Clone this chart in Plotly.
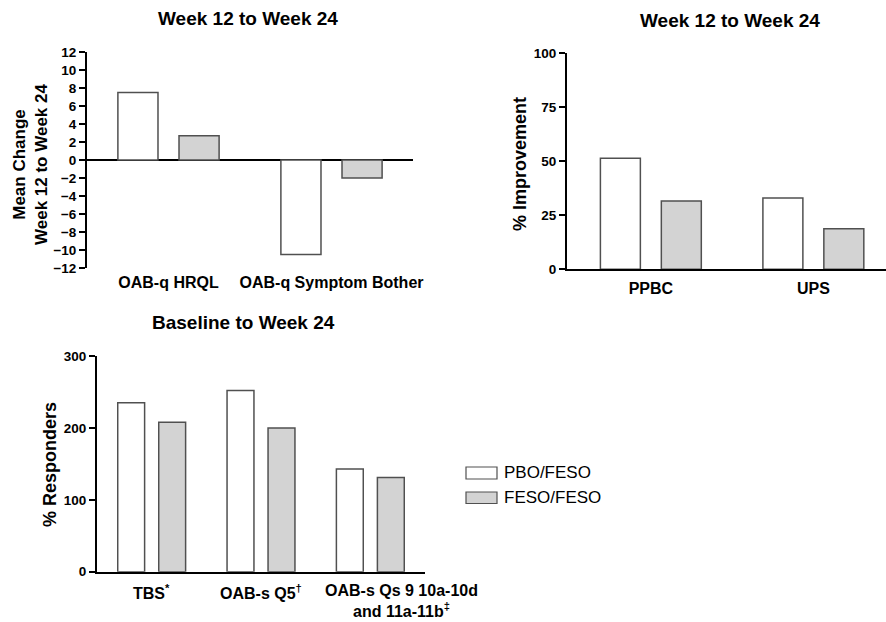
import plotly.graph_objects as go

# ---------------- data ----------------
series_names = ["PBO/FESO", "FESO/FESO"]

cats_change = ["OAB-q HRQL", "OAB-q Symptom Bother"]
pbo_change = [7.5, -10.5]
feso_change = [2.7, -2.0]
ticks_change = [-12, -10, -8, -6, -4, -2, 0, 2, 4, 6, 8, 10, 12]

cats_improve = ["PPBC", "UPS"]
pbo_improve = [51.4, 33.0]
feso_improve = [31.6, 18.8]
ticks_improve = [0, 25, 50, 75, 100]

cats_resp = ["TBS<sup>*</sup>", "OAB-s Q5<sup>†</sup>",
             "OAB-s Qs 9 10a-10d<br>and 11a-11b<sup>‡</sup>"]
pbo_resp = [235, 252, 143]
feso_resp = [208, 200, 131]
ticks_resp = [0, 100, 200, 300]

# ---------------- style ----------------
W, H = 886, 622
FONT = "Liberation Sans, Arial, sans-serif"
EDGE = "#505050"
FILLS = ["#ffffff", "#d3d3d3"]


def fx(px):
    return px / W


def fy(py):
    return 1 - py / H


fig = go.Figure()

panels = [
    ("x", "y", cats_change, [pbo_change, feso_change]),
    ("x2", "y2", cats_improve, [pbo_improve, feso_improve]),
    ("x3", "y3", cats_resp, [pbo_resp, feso_resp]),
]
for xa, ya, cats, vals in panels:
    for name, v, fill in zip(series_names, vals, FILLS):
        fig.add_trace(go.Bar(
            x=cats, y=v, name=name, xaxis=xa, yaxis=ya,
            marker=dict(color=fill, line=dict(color=EDGE, width=1.5)),
            showlegend=False, hoverinfo="y+name",
        ))

TICKFONT_X = dict(family=FONT, size=16, color="black", weight="bold")
yaxis_common = dict(
    showline=True, linewidth=2, linecolor="black",
    ticks="outside", ticklen=6, tickwidth=1.5, tickcolor="black",
    showgrid=False, automargin=False,
    tickfont=dict(family=FONT, size=13.5, color="black", weight="bold"),
)
xaxis_common = dict(
    type="category", ticks="", showgrid=False, zeroline=False,
    automargin=False, tickangle=0, tickfont=TICKFONT_X,
    ticklabelstandoff=3,
)

fig.update_layout(
    template="none",
    width=W, height=H, autosize=False,
    margin=dict(l=0, r=0, t=0, b=0, pad=0),
    paper_bgcolor="white", plot_bgcolor="white",
    barmode="group", bargap=0.25, bargroupgap=0.344,
    showlegend=False,
    font=dict(family=FONT, color="black"),
    xaxis=dict(domain=[fx(87), fx(413)], anchor="y", range=[-0.5, 1.5],
               showline=False, **xaxis_common),
    yaxis=dict(domain=[fy(268), fy(52)], anchor="x", range=[-12, 12],
               tickvals=ticks_change, zeroline=True, zerolinecolor="black",
               zerolinewidth=2, **yaxis_common),
    xaxis2=dict(domain=[fx(567), 1.0], anchor="y2", range=[-0.516, 1.447],
                showline=True, linewidth=2, linecolor="black", **xaxis_common),
    yaxis2=dict(domain=[fy(269.3), fy(53.3)], anchor="x2", range=[0, 100],
                tickvals=ticks_improve, zeroline=False, **yaxis_common),
    xaxis3=dict(domain=[fx(97), fx(425)], anchor="y3", range=[-0.5, 2.5],
                showline=True, linewidth=2, linecolor="black",
                **{**xaxis_common, "showticklabels": False}),
    yaxis3=dict(domain=[fy(571.7), fy(356)], anchor="x3", range=[0, 300],
                tickvals=ticks_resp, zeroline=False, **yaxis_common),
)

ann = []
title_font = dict(family=FONT, size=19, color="black", weight="bold")
for txt, px, py in [("Week 12 to Week 24", 248, 18),
                    ("Week 12 to Week 24", 730, 20),
                    ("Baseline to Week 24", 243, 322)]:
    ann.append(dict(text=txt, x=fx(px), y=fy(py), xref="paper", yref="paper",
                    xanchor="center", yanchor="middle", showarrow=False,
                    font=title_font))

for txt, px, py, sz in [("Mean Change<br>Week 12 to Week 24", 30, 164, 17),
                        ("% Improvement", 520, 164, 18),
                        ("% Responders", 50, 465, 18)]:
    ann.append(dict(text=txt, x=fx(px), y=fy(py), xref="paper", yref="paper",
                    xanchor="center", yanchor="middle", showarrow=False,
                    textangle=-90,
                    font=dict(family=FONT, size=sz, color="black", weight="bold")))

# category labels of the bottom panel (placed on the category axis;
# the reference draws the last one right of its group centre)
for cat, shift in zip(cats_resp, [0, 0, 31]):
    ann.append(dict(text=cat, x=cat, y=0, xref="x3", yref="y3",
                    xanchor="center", yanchor="top", yshift=-8, xshift=shift,
                    showarrow=False, align="center", font=TICKFONT_X))

# legend (custom, wide swatches)
shapes = []
for name, fill, (top, bot) in zip(series_names, FILLS, [(467, 479), (492, 503.5)]):
    shapes.append(dict(type="rect", xref="paper", yref="paper",
                       x0=fx(466), x1=fx(497), y0=fy(bot), y1=fy(top),
                       fillcolor=fill, line=dict(color=EDGE, width=1.2)))
    ann.append(dict(text=name, x=fx(502), y=fy((top + bot) / 2),
                    xref="paper", yref="paper", xanchor="left",
                    yanchor="middle", showarrow=False,
                    font=dict(family=FONT, size=17, color="black")))

fig.update_layout(annotations=ann, shapes=shapes)

fig.write_html("out.html",
               config={"displayModeBar": False},
               post_script="document.body.style.margin='0px';"
                           "document.body.style.overflow='hidden';")
